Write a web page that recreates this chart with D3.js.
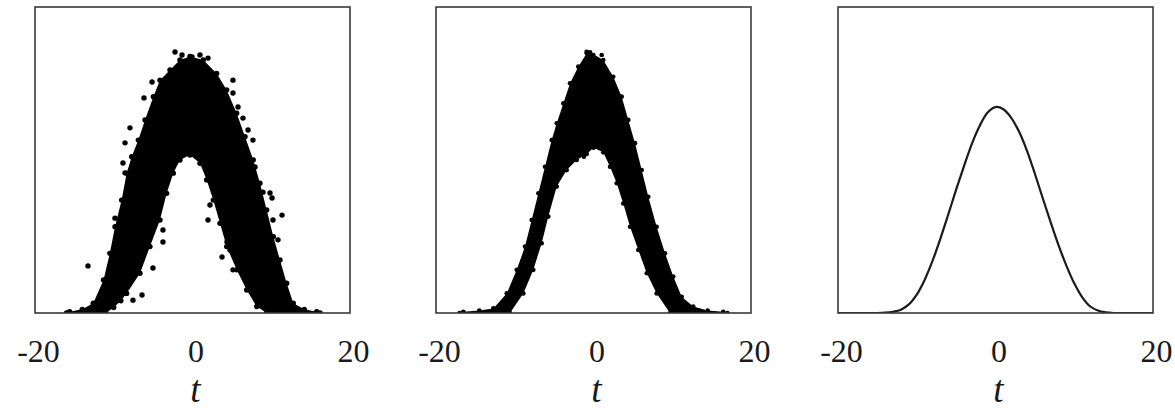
<!DOCTYPE html>
<html>
<head>
<meta charset="utf-8">
<script src="https://cdn.jsdelivr.net/npm/d3@7"></script>
<style>
  html, body { margin: 0; padding: 0; background: #fff; }
  svg { display: block; }
</style>
</head>
<body>
<svg id="fig" width="1175" height="411"></svg>
<script>
// ---- data -------------------------------------------------------------
const tickValues = [-20, 0, 20];
const axisLabel = "t";

// Left panel: broad noisy cloud, given as its outer and inner envelope [t, value]
const cloudAOuter = [
  [-16.0, 0.000], [-15.6, 0.004], [-14.0, 0.012], [-12.6, 0.032], [-11.3, 0.108],
  [-10.5, 0.195], [-9.84, 0.282], [-9.0, 0.369], [-8.36, 0.457], [-7.72, 0.511],
  [-6.88, 0.565], [-6.03, 0.631], [-4.97, 0.707], [-4.13, 0.761], [-2.86, 0.794],
  [-1.59, 0.827], [-0.32, 0.838], [1.37, 0.827], [3.07, 0.783], [4.34, 0.729],
  [5.61, 0.653], [6.67, 0.576], [7.72, 0.500], [8.57, 0.424], [9.42, 0.337],
  [10.27, 0.249], [11.11, 0.173], [11.96, 0.097], [12.8, 0.032], [14.2, 0.012],
  [15.77, 0.004], [16.2, 0.000]
];
const cloudAInner = [
  [-11.0, 0.000], [-10.0, 0.018], [-9.1, 0.040], [-8.36, 0.064], [-6.67, 0.130],
  [-5.40, 0.217], [-4.13, 0.304], [-3.28, 0.391], [-2.44, 0.457], [-1.59, 0.500],
  [-0.32, 0.516], [0.95, 0.489], [1.80, 0.435], [2.64, 0.369], [3.49, 0.293],
  [4.34, 0.217], [5.61, 0.141], [6.88, 0.075], [8.15, 0.021], [9.42, 0.000]
];
const cloudAStray = [
  [-2.22, 0.853], [-1.33, 0.843], [-0.06, 0.837], [0.95, 0.843], [1.97, 0.833],
  [5.14, 0.761], [5.14, 0.719], [5.78, 0.673], [6.41, 0.637], [7.05, 0.598],
  [7.68, 0.565], [7.94, 0.477], [8.95, 0.395], [9.84, 0.392], [10.10, 0.376],
  [11.37, 0.320], [10.22, 0.304], [10.86, 0.239], [8.95, 0.261], [5.14, 0.346],
  [2.22, 0.353], [1.97, 0.304], [4.38, 0.232], [4.76, 0.206], [3.75, 0.183],
  [5.14, 0.141], [-5.02, 0.147], [-6.41, 0.059], [-7.56, 0.042], [-13.27, 0.154],
  [-9.84, 0.310], [-8.57, 0.556], [-7.94, 0.605], [-6.16, 0.703], [-5.14, 0.755],
  [-8.83, 0.490], [-8.57, 0.458], [-3.75, 0.271], [-3.75, 0.232]
];

// Middle panel: narrower cloud
const cloudBOuter = [
  [-17.0, 0.000], [-16.53, 0.004], [-14.5, 0.008], [-12.72, 0.015], [-11.02, 0.064],
  [-9.75, 0.141], [-8.70, 0.217], [-7.85, 0.304], [-7.00, 0.391], [-6.16, 0.478],
  [-5.31, 0.565], [-4.67, 0.620], [-3.83, 0.685], [-2.98, 0.751], [-1.93, 0.805],
  [-0.86, 0.849], [-0.44, 0.852], [1.24, 0.827], [2.51, 0.772], [3.58, 0.707],
  [4.42, 0.631], [5.27, 0.555], [6.12, 0.467], [6.96, 0.380], [8.02, 0.282],
  [9.08, 0.195], [10.13, 0.119], [11.2, 0.053], [12.67, 0.021], [14.5, 0.008],
  [16.48, 0.004], [17.0, 0.000]
];
const cloudBInner = [
  [-10.6, 0.000], [-8.91, 0.064], [-7.64, 0.141], [-6.58, 0.228], [-5.74, 0.315],
  [-4.67, 0.413], [-3.40, 0.467], [-2.13, 0.500], [-0.86, 0.520], [0.00, 0.540],
  [1.24, 0.525], [2.10, 0.478], [2.95, 0.424], [3.78, 0.358], [4.64, 0.282],
  [5.69, 0.206], [6.76, 0.130], [8.02, 0.064], [9.71, 0.000]
];
const cloudBStray = [
  [-0.87, 0.854], [-0.02, 0.843], [1.04, 0.843], [-1.21, 0.511]
];

// Right panel: smooth profile
const curveT = [-20, -19, -18, -17, -16, -15, -14, -13, -12, -11, -10, -9, -8, -7, -6, -5, -4, -3, -2, -1,
                0, 1, 2, 3, 4, 5, 6, 7, 8, 9, 10, 11, 12, 13, 14, 15, 16, 17, 18, 19, 20];
const curveV = [0, 0, 0, 0, 0, 0, 0.001, 0.004, 0.011, 0.028, 0.060, 0.108, 0.170, 0.243, 0.322, 0.403, 0.480, 0.553, 0.612, 0.655,
                0.673, 0.666, 0.638, 0.592, 0.530, 0.455, 0.375, 0.297, 0.222, 0.155, 0.097, 0.052, 0.022, 0.008, 0.002, 0, 0, 0, 0, 0, 0];

// ---- layout -----------------------------------------------------------
const svg = d3.select("#fig");
const frameW = 315, frameTop = 7, frameBottom = 313;
const serif = "'Liberation Serif', 'DejaVu Serif', serif";
const panels = [
  { left: 35,  kind: "cloud", outer: cloudAOuter, inner: cloudAInner, stray: cloudAStray, r: 2.7 },
  { left: 436, kind: "cloud", outer: cloudBOuter, inner: cloudBInner, stray: cloudBStray, r: 2.3 },
  { left: 838, kind: "curve" }
];

panels.forEach((p, i) => {
  const x = d3.scaleLinear().domain([-20, 20]).range([p.left, p.left + frameW]);
  const y = d3.scaleLinear().domain([0, 1]).range([frameBottom, frameTop]);
  const g = svg.append("g");

  const clipId = "clip" + i;
  g.append("clipPath").attr("id", clipId)
    .append("rect")
    .attr("x", p.left).attr("y", frameTop)
    .attr("width", frameW).attr("height", frameBottom - frameTop);
  const plot = g.append("g").attr("clip-path", `url(#${clipId})`);

  if (p.kind === "cloud") {
    // dense band: outer envelope left→right, then inner envelope right→left
    const ring = p.outer.concat(p.inner.slice().reverse());
    const band = d3.line().x(d => x(d[0])).y(d => y(d[1])).curve(d3.curveLinearClosed);
    plot.append("path").attr("d", band(ring)).attr("fill", "#000");

    const edgeDots = p.outer.concat(p.inner, p.stray);
    plot.selectAll("circle.dot").data(edgeDots).join("circle")
      .attr("class", "dot")
      .attr("cx", d => x(d[0])).attr("cy", d => y(d[1]))
      .attr("r", p.r).attr("fill", "#000");
  } else {
    const pts = curveT.map((t, k) => [t, curveV[k]]);
    const line = d3.line().x(d => x(d[0])).y(d => y(d[1])).curve(d3.curveCatmullRom.alpha(0.5));
    plot.append("path").attr("d", line(pts))
      .attr("fill", "none").attr("stroke", "#1a1a1a").attr("stroke-width", 2.2);
  }

  // frame
  g.append("rect")
    .attr("x", p.left).attr("y", frameTop)
    .attr("width", frameW).attr("height", frameBottom - frameTop)
    .attr("fill", "none").attr("stroke", "#3a3a3a").attr("stroke-width", 1.6);

  // tick labels
  const axis = d3.axisBottom(x).tickValues(tickValues).tickSize(0).tickPadding(26)
    .tickFormat(d => String(d));
  const ax = g.append("g").attr("transform", `translate(0,${frameBottom})`).call(axis);
  ax.select(".domain").remove();
  ax.selectAll("text")
    .attr("dx", 3)
    .attr("fill", "#1a1a1a")
    .style("font-family", serif)
    .style("font-size", "32px");

  // axis title
  g.append("text")
    .attr("x", x(0) + 3).attr("y", 402)
    .attr("text-anchor", "middle")
    .attr("fill", "#1a1a1a")
    .style("font-family", serif)
    .style("font-style", "italic")
    .style("font-size", "37px")
    .text(axisLabel);
});
</script>
</body>
</html>
